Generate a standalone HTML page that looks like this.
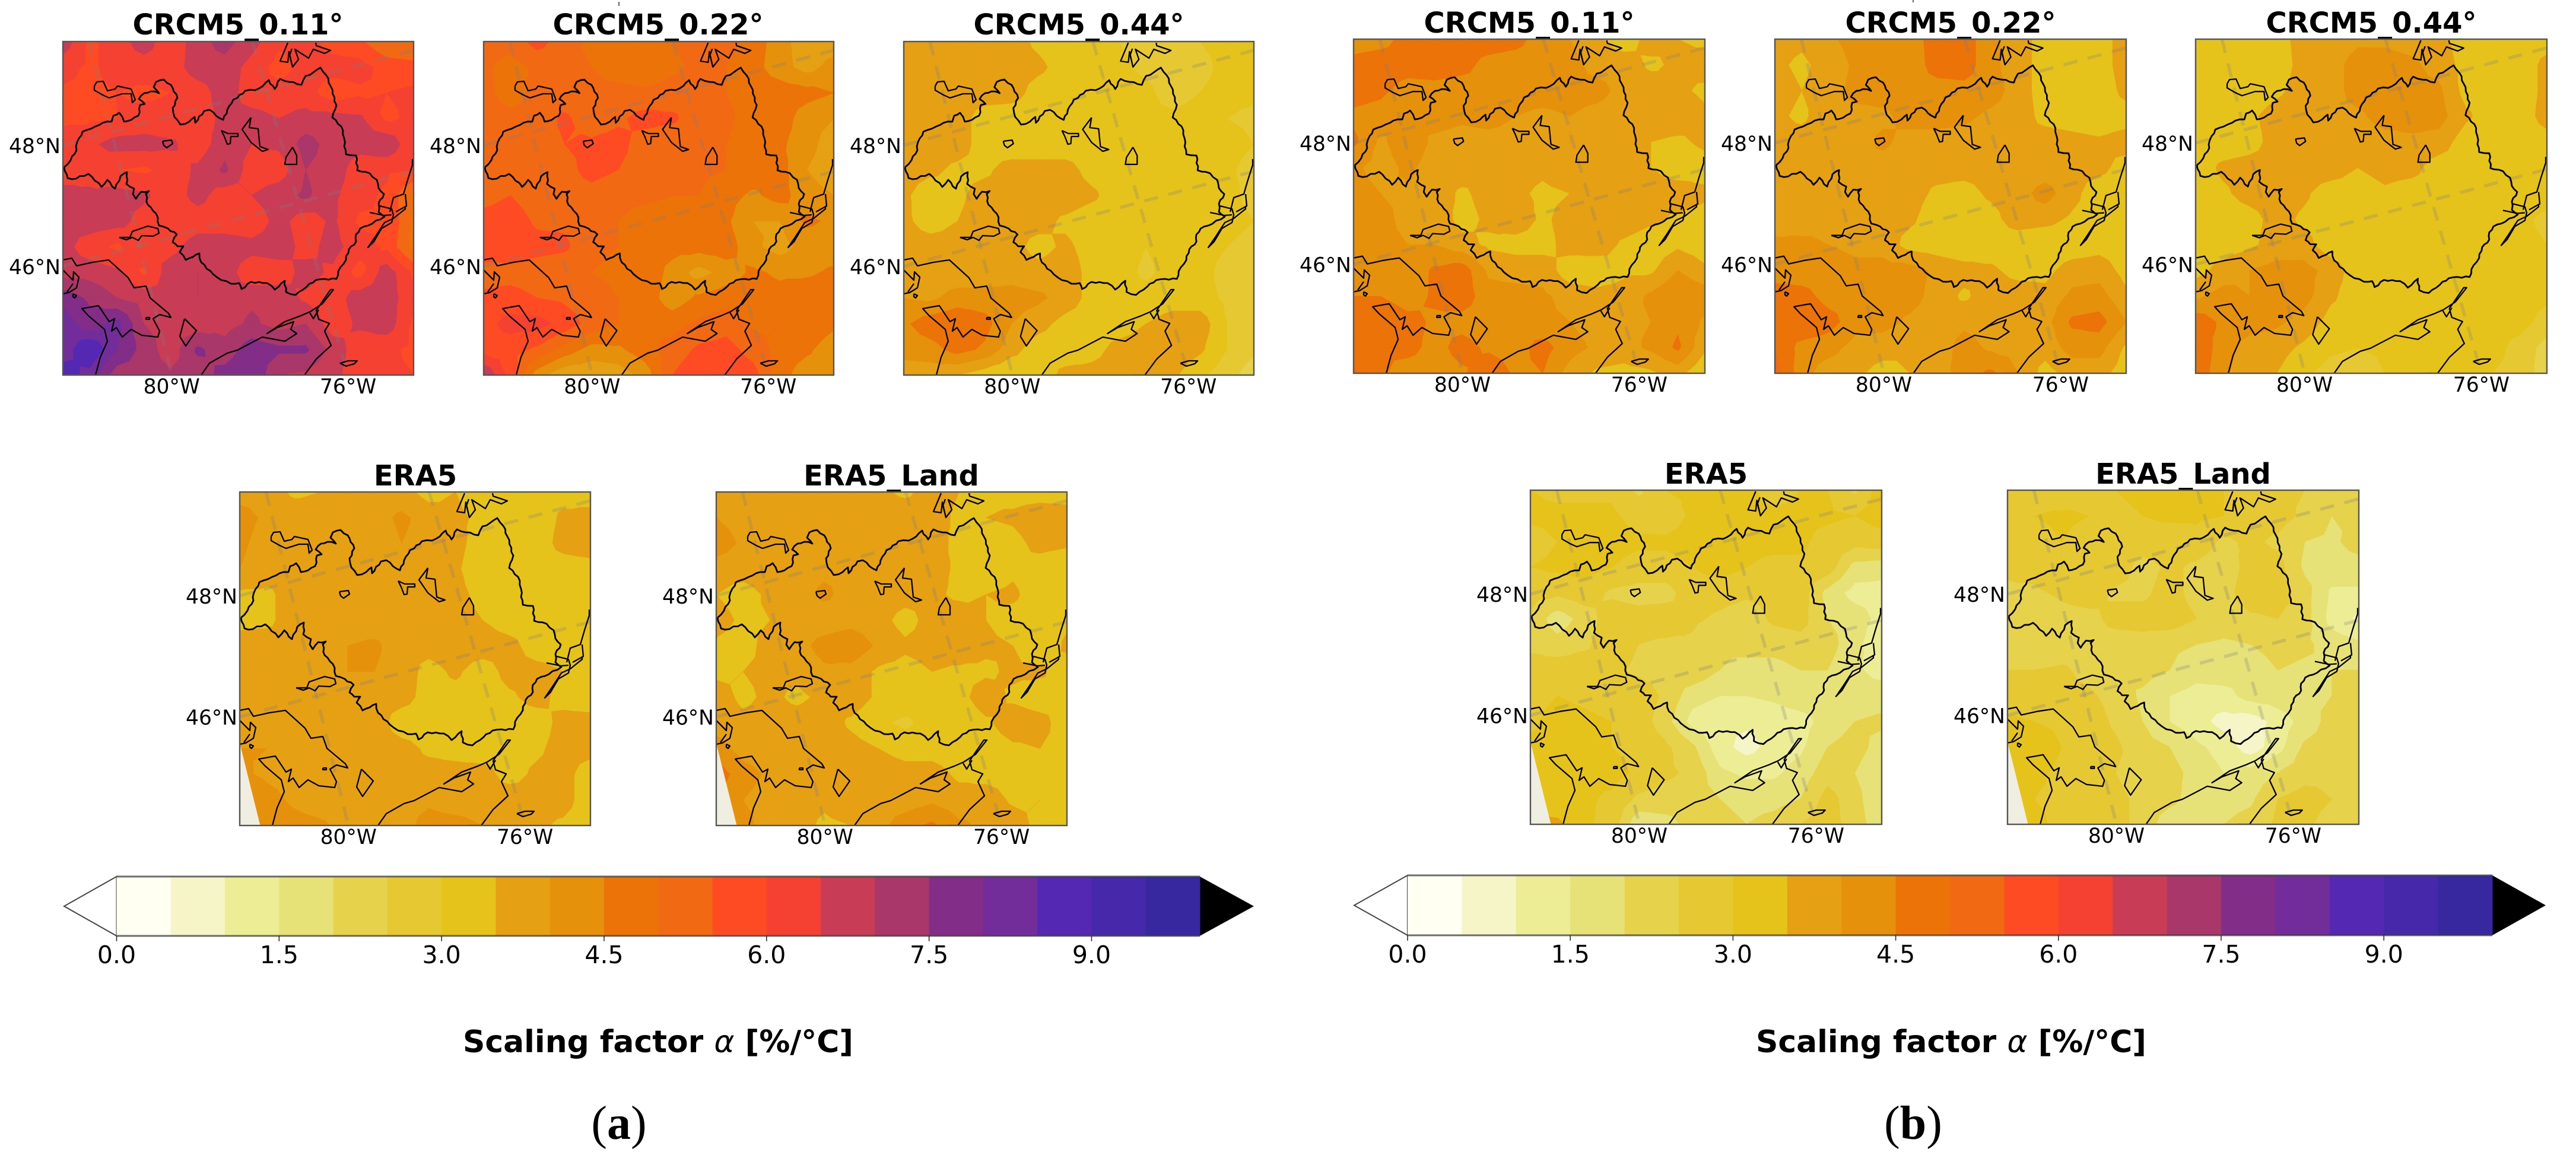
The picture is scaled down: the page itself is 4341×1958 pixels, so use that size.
<!DOCTYPE html>
<html lang="en">
<head>
<meta charset="utf-8">
<title>Scaling factor maps</title>
<style>
html,body{margin:0;padding:0;background:#fff;width:4341px;height:1958px;overflow:hidden}
svg{display:block}
text{font-family:"DejaVu Sans","Liberation Sans",sans-serif;fill:#000}
.title{font-size:48px;font-weight:bold;text-anchor:middle}
.cblabel{font-size:51.9px;font-weight:bold;text-anchor:middle}
.sub{font-family:"Liberation Serif",serif;font-size:80px;text-anchor:middle}
</style>
</head>
<body>
<svg id="figure" xmlns="http://www.w3.org/2000/svg" width="4341" height="1958" viewBox="0 0 4341 1958">
<rect width="4341" height="1958" fill="#fff"/>
<g id="titles">
<text class="title" x="401" y="58">CRCM5_0.11°</text>
<text class="title" x="1109" y="58">CRCM5_0.22°</text>
<text class="title" x="1818" y="58">CRCM5_0.44°</text>
<text class="title" x="2577" y="55">CRCM5_0.11°</text>
<text class="title" x="3287" y="55">CRCM5_0.22°</text>
<text class="title" x="3996" y="55">CRCM5_0.44°</text>
<text class="title" x="700" y="818">ERA5</text>
<text class="title" x="1502" y="818">ERA5_Land</text>
<text class="title" x="2875" y="815">ERA5</text>
<text class="title" x="3679" y="815">ERA5_Land</text>
</g>
<line x1="1043" y1="3" x2="1043" y2="10" stroke="#333" stroke-width="1.5"/>
<line x1="3224" y1="0" x2="3224" y2="4" stroke="#333" stroke-width="1.5"/>
<g id="panels"></g>
<g id="colorbars"></g>
<text class="cblabel" x="1109" y="1773">Scaling factor <tspan font-style="italic" font-weight="normal">α</tspan> [%/°C]</text>
<text class="cblabel" x="3288" y="1773">Scaling factor <tspan font-style="italic" font-weight="normal">α</tspan> [%/°C]</text>
<text class="sub" x="1043" y="1919">(<tspan font-weight="bold">a</tspan>)</text>
<text class="sub" x="3224" y="1919">(<tspan font-weight="bold">b</tspan>)</text>
</svg>
<script>
// ---- Colour levels and tick labels ----
const levelBounds = [0,0.5,1,1.5,2,2.5,3,3.5,4,4.5,5,5.5,6,6.5,7,7.5,8,8.5,9,9.5];
const levelColors = ["#fffff2","#f5f5c8","#eded96","#e6e278","#e6d24b","#e6c832","#e6c31a","#e6a013","#e6910b","#ec7308","#f26914","#ff4b23","#f54132","#c83c55","#aa3769","#822d87","#732d9b","#5528b4","#4628aa","#3728a0"];
const colorbarTicks = [0,1.5,3,4.5,6,7.5,9];
const colorbarMax = 10;
const lonTicks = [-80,-76];
const latTicks = [48,46];

// ---- Scaling factor fields (rows north to south) ----
const crcm011A = [
[6.8,5.9,6.2,6.8,6.1,6.8,7.2,6.7,6.1,6.2,5.8,5.6,5.0,4.9],
[6.2,5.9,6.2,6.2,6.2,6.8,6.8,6.3,5.8,6.2,6.2,6.2,5.8,5.7],
[5.9,5.9,6.0,5.9,6.0,6.2,6.8,6.2,6.2,6.2,5.7,5.9,6.0,6.1],
[5.9,5.9,6.0,6.2,6.1,6.3,6.6,6.7,6.5,6.7,6.7,6.6,5.9,6.1],
[6.2,6.4,6.7,6.7,6.6,6.2,6.8,6.5,6.6,7.2,6.8,6.7,6.9,6.1],
[6.2,6.3,6.0,5.9,6.2,6.6,7.1,6.2,6.2,7.0,6.8,6.2,6.1,6.0],
[6.7,6.6,6.7,6.6,6.2,6.7,6.2,6.5,6.8,7.1,6.6,6.2,5.9,4.9],
[6.7,6.8,6.7,6.3,6.0,6.2,6.2,6.1,6.7,6.2,6.6,5.9,6.0,4.9],
[6.7,6.2,5.9,6.4,6.3,6.8,6.8,6.7,6.8,6.3,6.7,6.2,5.9,4.8],
[6.8,6.8,6.6,5.9,6.8,7.0,6.8,6.1,6.2,6.7,6.4,5.8,6.8,5.9],
[7.8,7.4,7.0,6.8,6.5,7.0,6.7,6.9,6.8,6.4,6.2,6.8,6.8,6.1],
[8.3,7.7,8.2,7.0,6.8,6.7,6.8,7.1,6.8,7.0,6.2,6.6,6.8,5.9],
[8.2,9.0,8.0,7.3,6.7,7.6,7.2,7.8,7.6,7.6,6.8,6.2,6.1,5.9],
[8.8,8.3,7.2,7.3,7.1,7.2,7.7,8.0,7.0,6.9,6.6,6.3,6.1,6.0]];
const crcm022A = [
[5.2,5.2,5.7,5.2,4.9,4.7,4.7,5.0,5.2,5.2,4.8,4.2,3.7,3.7],
[5.1,4.8,5.1,5.1,5.0,4.7,4.6,4.9,5.1,5.0,4.7,4.2,3.8,4.2],
[5.2,4.7,5.2,5.2,5.1,5.2,5.1,5.2,5.3,5.0,4.8,4.8,4.7,4.5],
[5.3,5.2,5.2,5.6,5.2,5.4,5.7,5.6,5.2,5.1,4.8,4.8,4.2,4.0],
[5.2,5.1,5.3,5.5,5.6,5.7,5.2,5.1,5.1,5.0,4.8,4.6,4.2,3.7],
[5.1,5.2,5.2,5.3,5.7,5.5,5.2,5.1,5.1,5.0,4.8,4.7,4.0,3.7],
[5.3,5.5,5.2,5.2,5.3,5.1,5.1,5.0,5.0,4.7,4.4,4.7,4.2,4.0],
[5.7,5.8,5.4,5.4,5.2,5.0,4.8,4.8,4.9,4.6,4.0,4.0,4.6,4.4],
[5.8,5.8,5.7,5.6,5.1,5.0,4.8,4.7,4.7,4.8,4.1,3.8,4.2,4.2],
[5.3,5.3,5.2,5.1,5.0,4.9,4.9,4.3,3.8,4.2,4.6,4.4,4.4,4.6],
[5.6,5.7,5.5,5.4,5.2,5.0,4.8,4.2,4.6,4.8,4.8,4.7,4.9,4.9],
[5.8,6.2,6.2,5.8,5.3,5.0,5.0,4.8,5.1,5.3,4.9,5.0,4.9,4.6],
[5.8,5.7,5.4,4.8,4.3,4.4,4.8,5.2,5.6,5.7,5.3,4.8,4.6,4.2],
[7.0,5.8,4.2,3.6,3.6,3.7,4.2,5.5,5.9,5.9,5.7,4.7,4.2,4.2]];
const crcm044A = [
[3.7,3.7,3.7,3.7,3.7,3.4,3.2,3.2,3.0,2.8,2.8,3.0,3.1,3.1],
[3.7,3.7,3.7,3.7,3.7,3.6,3.3,3.2,3.1,2.9,2.8,2.9,3.1,3.1],
[3.7,3.7,3.7,3.7,3.7,3.3,3.2,3.2,3.2,3.1,2.8,3.0,3.1,3.1],
[3.7,3.7,3.7,3.3,3.2,3.2,3.2,3.2,3.2,3.1,3.1,3.2,3.0,2.9],
[3.7,3.7,3.7,3.3,3.2,3.2,3.2,3.2,3.2,3.2,3.2,3.2,3.2,3.0],
[3.7,3.6,3.4,3.4,3.7,3.7,3.7,3.3,3.2,3.2,3.2,3.2,3.1,2.8],
[3.6,3.2,3.4,3.7,3.7,3.7,3.8,3.6,3.2,3.0,3.2,3.2,3.2,2.8],
[3.6,3.3,3.5,3.7,3.7,3.7,3.4,3.2,3.2,3.0,3.2,3.2,3.2,3.0],
[3.7,3.7,3.7,3.7,3.7,3.3,3.6,3.3,3.2,3.0,3.2,3.2,3.0,2.8],
[3.8,3.7,3.7,3.7,3.8,3.7,3.8,3.3,3.2,2.9,3.2,3.2,2.8,2.7],
[4.0,3.9,4.2,4.2,4.2,4.1,3.8,3.3,3.2,3.2,3.3,3.2,2.9,2.9],
[4.4,4.8,5.0,4.7,4.0,3.7,3.3,3.2,3.2,3.5,3.7,3.8,3.0,2.9],
[4.2,4.3,4.7,4.4,3.7,3.2,3.1,3.3,3.7,3.8,3.8,3.6,3.0,2.6],
[3.7,3.7,3.5,3.2,3.0,3.1,3.7,3.7,3.8,3.7,3.6,3.1,2.7,2.2]];
const crcm011B = [
[4.2,4.3,4.7,4.7,4.8,4.8,4.7,4.2,4.0,3.6,3.2,3.7,3.5,3.4],
[4.7,4.8,4.7,4.8,4.7,4.3,4.2,4.2,4.2,3.8,3.8,3.4,3.6,3.7],
[4.7,4.6,4.3,4.3,4.2,4.3,4.2,4.2,4.2,4.2,3.8,3.8,3.6,3.4],
[4.4,4.3,4.0,4.2,4.1,4.2,4.0,3.9,4.0,3.8,3.7,3.8,3.8,3.6],
[4.6,3.9,4.3,3.9,3.8,3.8,3.8,3.7,4.0,3.8,3.8,3.5,3.4,3.6],
[4.1,3.8,4.1,3.8,3.8,3.6,3.7,3.6,3.8,3.7,3.8,3.5,3.2,3.3],
[4.2,4.0,3.9,3.8,3.4,3.7,3.6,3.4,3.5,3.8,4.0,3.7,3.8,3.6],
[4.1,4.2,3.8,3.9,3.3,3.6,3.8,3.4,3.7,3.8,3.8,3.6,3.4,3.3],
[4.0,4.2,4.0,4.0,3.7,3.4,3.3,3.3,3.7,3.8,3.4,3.2,3.4,3.2],
[4.4,4.1,4.1,4.6,4.8,3.9,3.8,3.8,3.2,3.1,3.4,3.4,4.0,3.6],
[4.5,4.5,4.2,4.6,4.8,4.2,4.2,4.1,3.8,3.7,3.7,4.1,4.5,4.3],
[4.8,5.0,4.7,4.4,4.3,4.2,4.3,4.1,4.0,3.8,3.9,4.0,4.4,3.9],
[4.7,4.5,4.7,4.3,4.7,4.4,4.3,4.7,4.2,3.9,3.8,4.1,4.6,3.6],
[5.1,4.6,4.2,4.2,4.4,4.9,4.4,4.5,3.8,3.4,3.3,3.4,3.7,3.0]];
const crcm022B = [
[3.7,3.6,3.9,4.2,4.2,4.2,4.8,4.8,4.1,3.8,3.2,3.2,3.2,3.8],
[3.6,3.4,3.7,4.1,4.2,4.1,4.8,4.8,4.1,3.8,3.2,3.0,3.2,3.8],
[3.7,3.5,3.7,4.2,4.2,4.2,4.2,4.3,4.2,3.8,3.2,3.1,3.1,3.7],
[3.6,3.4,3.8,3.8,3.9,4.2,4.2,4.1,3.9,3.8,3.3,3.2,3.1,3.2],
[3.7,3.7,3.8,3.8,4.1,3.8,3.8,3.8,3.7,3.7,3.8,3.7,3.6,3.8],
[3.7,3.8,3.8,3.9,3.8,3.7,3.7,3.7,3.7,3.7,3.7,3.7,3.7,3.2],
[3.8,3.7,3.7,3.7,3.7,3.7,3.4,3.3,3.6,3.8,4.2,3.7,3.1,3.1],
[3.8,3.6,3.8,3.8,3.7,3.6,3.2,3.2,3.3,3.8,3.7,3.4,3.2,3.2],
[4.1,4.2,4.0,3.9,3.8,3.3,3.2,3.1,3.2,3.1,3.0,3.1,3.3,3.2],
[4.3,4.2,4.2,4.1,4.2,4.2,3.9,3.7,3.6,3.3,3.3,3.8,3.8,3.3],
[4.7,4.7,4.3,4.3,4.2,4.2,3.8,3.4,3.8,3.8,3.7,4.1,4.2,3.6],
[4.8,5.0,4.7,4.2,4.2,3.9,3.7,3.9,3.8,3.7,3.8,4.6,4.7,4.0],
[5.0,4.3,4.2,3.8,3.7,3.5,3.7,4.2,3.9,3.8,3.7,4.2,4.2,3.4],
[5.2,4.2,3.7,3.6,3.3,3.5,3.7,4.3,4.6,4.0,3.3,3.7,3.7,3.2]];
const crcm044B = [
[3.2,3.2,3.2,3.3,3.7,3.7,3.9,3.9,3.8,3.7,3.2,3.1,3.1,3.2],
[3.2,3.2,3.2,3.2,3.7,3.8,4.2,4.2,4.1,3.8,3.3,3.1,3.1,3.7],
[3.0,3.2,3.2,3.4,3.7,3.8,4.2,4.2,4.2,4.1,3.3,3.2,3.1,3.7],
[3.2,3.2,3.4,3.7,3.8,3.9,3.9,4.2,4.2,4.2,3.6,3.2,3.1,3.8],
[3.2,3.2,3.3,3.7,3.8,3.8,3.7,3.8,3.9,3.8,3.2,3.0,3.0,3.2],
[3.2,3.6,3.7,3.7,3.8,3.8,3.5,3.7,3.7,3.2,3.2,3.2,3.0,3.1],
[3.2,3.4,3.7,3.8,3.6,3.2,3.2,3.4,3.2,3.2,3.2,3.2,3.2,3.2],
[3.2,3.2,3.3,3.7,3.4,3.2,3.2,3.2,3.2,3.2,3.2,3.2,3.1,2.9],
[3.2,3.2,3.4,3.7,3.7,3.2,3.1,3.0,3.0,3.1,3.2,3.2,3.1,3.0],
[3.3,3.7,4.0,4.2,4.2,3.8,3.2,3.1,3.1,3.2,3.2,3.3,3.2,3.0],
[3.9,4.2,4.0,4.2,4.2,3.6,3.2,3.2,3.2,3.2,3.2,3.2,3.2,3.1],
[4.8,4.4,4.2,4.1,3.8,3.3,3.2,3.2,3.2,3.2,3.2,3.2,3.2,2.8],
[5.0,4.2,3.8,3.7,3.4,3.1,3.0,3.1,3.2,3.4,3.2,3.2,2.8,2.3],
[4.9,4.1,3.7,3.5,3.1,2.8,2.7,3.0,3.1,3.3,3.2,3.0,2.8,2.2]];
const era5A = [
[3.8,3.8,3.4,3.5,3.6,3.7,3.7,3.3,3.5,3.2,3.2,3.3,3.3,3.2],
[4.2,3.9,3.8,3.7,3.9,3.8,4.1,3.8,3.6,3.4,3.3,3.2,3.6,3.7],
[4.1,3.8,3.7,3.7,3.8,3.7,4.0,3.8,3.7,3.2,3.1,3.2,3.7,3.9],
[4.0,3.7,3.7,3.7,3.7,3.8,3.8,3.8,3.6,3.1,3.0,3.2,3.2,3.2],
[3.4,3.4,3.7,3.7,3.8,3.8,3.8,3.7,3.7,3.3,3.0,3.2,3.1,3.2],
[3.3,3.4,3.7,3.8,3.8,3.7,3.8,3.7,3.7,3.5,3.2,3.2,3.2,3.2],
[3.8,3.7,3.7,3.8,4.0,4.1,3.7,3.7,3.8,3.8,3.7,3.2,3.2,3.4],
[3.9,3.6,3.5,3.7,4.0,4.0,3.8,3.3,3.6,3.2,3.7,3.7,3.5,3.3],
[4.0,3.8,3.8,3.8,3.7,3.7,3.7,3.3,3.3,3.2,3.4,3.7,3.3,3.2],
[3.9,3.8,3.7,3.7,3.8,3.8,3.2,3.2,3.1,3.2,3.2,3.2,3.7,3.7],
[4.0,4.0,3.8,3.8,3.7,3.8,3.7,3.4,3.3,3.2,3.3,3.4,3.7,3.7],
[4.1,3.9,3.8,3.8,3.7,3.6,3.7,3.7,3.7,3.7,3.3,3.6,3.7,3.2],
[4.6,4.2,3.9,3.7,3.7,3.7,3.8,3.9,3.7,3.7,3.8,3.7,3.7,3.2],
[4.0,4.4,4.2,4.1,3.8,3.7,3.8,4.2,4.2,4.0,3.7,3.6,3.4,3.2]];
const era5LandA = [
[3.8,3.7,3.5,3.8,3.7,3.6,3.6,3.4,3.7,3.5,3.4,3.3,3.2,3.2],
[4.0,3.8,3.9,3.7,3.9,3.7,3.8,3.8,3.7,3.4,3.5,3.6,3.9,3.8],
[4.3,3.9,3.7,3.9,3.8,3.8,3.7,3.5,3.8,3.3,3.2,3.3,3.7,3.6],
[3.7,3.7,3.8,3.8,3.9,3.9,3.7,3.6,3.7,3.4,3.2,3.4,3.2,3.0],
[3.5,3.3,3.6,3.8,4.1,3.8,3.8,3.7,3.6,3.4,3.5,3.6,3.2,3.2],
[3.7,3.4,3.5,3.7,3.7,3.8,3.7,3.3,3.7,3.8,3.5,3.3,3.2,3.4],
[3.4,3.3,3.7,3.8,4.2,4.4,3.9,3.6,3.7,3.8,3.6,3.5,3.1,3.6],
[3.4,3.5,3.6,3.6,3.9,3.8,3.4,3.3,3.5,3.4,3.4,3.6,3.6,3.2],
[3.7,3.4,3.6,3.4,3.6,3.8,3.4,3.3,3.2,3.3,3.8,3.4,3.2,3.4],
[3.8,3.6,3.7,3.7,3.8,3.4,3.1,2.9,3.2,3.1,3.4,3.8,3.7,3.2],
[4.2,3.8,3.7,3.6,3.8,3.7,3.5,3.3,3.3,3.2,3.2,3.4,3.5,3.3],
[4.8,4.2,3.9,3.7,3.8,3.7,3.8,3.7,3.7,3.4,3.3,3.3,3.4,3.2],
[4.5,4.0,3.8,3.7,3.6,3.8,3.7,3.7,3.9,3.7,3.8,3.4,3.5,3.3],
[3.8,4.2,3.7,3.7,3.4,3.5,3.8,4.3,4.6,4.1,3.9,3.8,3.3,3.2]];
const era5B = [
[3.0,2.9,2.8,2.9,2.4,3.0,3.1,3.2,3.1,2.8,3.0,3.0,2.4,3.3],
[3.1,3.1,3.2,3.1,2.8,2.7,3.1,3.2,3.2,3.1,3.1,3.1,3.0,3.2],
[2.8,3.0,3.2,3.2,3.1,3.1,3.2,3.2,3.2,3.2,3.1,2.8,2.7,2.8],
[3.0,3.1,3.2,3.0,2.8,2.8,3.0,3.2,3.0,2.8,2.9,2.8,1.8,1.7],
[2.7,2.6,2.8,2.4,2.3,2.3,2.8,2.7,2.6,2.6,2.8,1.8,1.3,1.3],
[2.4,1.7,2.2,2.8,2.7,2.8,2.6,2.4,2.2,2.6,2.7,2.0,1.8,1.3],
[2.4,2.2,2.4,2.8,2.5,2.4,2.4,2.0,2.1,2.2,2.3,2.2,1.7,1.0],
[2.7,2.8,2.8,2.6,2.4,2.3,2.4,2.0,1.9,1.8,2.0,2.0,1.6,1.3],
[2.8,3.0,2.9,2.8,2.8,2.4,1.7,1.5,1.5,1.6,1.8,1.8,1.7,1.8],
[2.9,3.2,3.1,3.0,2.8,2.2,1.3,1.1,1.1,1.2,1.3,1.7,2.0,2.1],
[3.1,3.2,3.2,3.0,2.9,2.6,2.1,1.2,0.8,1.2,1.4,2.0,2.2,1.8],
[3.4,3.2,3.1,3.2,2.9,2.6,2.4,1.6,1.4,1.4,1.7,2.3,2.0,1.6],
[3.3,3.2,3.1,2.9,2.4,2.3,2.2,2.0,1.8,1.8,2.0,2.7,2.2,1.5],
[3.6,3.6,3.1,2.8,1.6,1.8,2.2,2.2,2.0,2.2,2.5,2.7,2.3,1.6]];
const era5LandB = [
[2.7,2.8,2.6,2.9,3.0,3.2,3.3,3.2,3.0,2.8,2.6,2.5,2.1,2.1],
[2.9,3.0,3.1,3.0,2.8,3.0,3.1,3.1,3.0,2.7,2.7,2.4,2.0,2.0],
[2.8,2.8,3.0,2.8,2.8,2.8,2.7,2.8,2.4,2.6,2.4,2.0,1.9,2.2],
[2.6,2.7,3.0,2.9,2.8,2.3,2.6,2.4,2.2,2.7,2.7,1.9,1.8,1.8],
[2.4,2.4,2.6,2.8,2.4,2.4,2.7,2.3,2.3,2.8,2.8,2.2,1.4,1.4],
[2.3,2.0,2.3,2.3,2.7,2.7,2.8,2.5,2.3,2.4,2.5,2.2,1.3,0.9],
[2.3,2.0,2.1,2.3,2.2,2.3,2.1,2.0,1.9,2.0,2.2,2.1,1.8,1.6],
[2.5,2.5,2.6,2.3,2.0,2.2,2.0,1.7,1.8,1.7,2.0,1.9,2.0,2.0],
[2.8,2.6,2.7,2.6,2.3,1.9,1.5,1.3,1.3,1.7,1.8,1.9,2.0,2.2],
[3.1,3.0,2.9,2.8,2.4,2.0,1.5,1.2,0.8,0.7,1.2,1.7,2.2,2.3],
[3.3,3.3,3.0,2.8,2.6,2.2,2.0,1.6,1.3,0.7,1.3,2.1,2.2,2.4],
[3.0,3.1,2.9,2.7,2.5,2.3,2.2,1.8,1.5,1.7,2.0,2.3,2.4,2.4],
[3.2,3.0,2.9,2.7,2.6,2.4,2.2,1.7,1.8,1.9,2.5,2.7,2.5,2.2],
[3.4,3.1,2.9,2.8,2.6,2.4,1.6,1.5,2.0,2.2,2.6,2.6,2.3,2.2]];

// ---- Map outlines (traced, in a 591 x 562 map frame) ----
const basinOutline = [[2,212],[13,200],[23,183],[22,177],[27,163],[33,152],[47,147],[55,143],[67,137],[82,135],[85,125],[95,120],[103,135],[115,132],[127,125],[130,107],[138,105],[128,97],[137,87],[148,84],[162,87],[153,77],[157,68],[170,64],[182,73],[193,95],[185,112],[188,127],[198,140],[213,135],[222,127],[223,137],[238,117],[247,115],[258,125],[270,132],[277,115],[287,98],[294,95],[307,83],[324,82],[337,75],[347,65],[357,80],[366,63],[381,68],[402,73],[409,58],[422,52],[434,44],[444,57],[451,75],[461,107],[454,128],[469,143],[474,163],[477,190],[494,192],[496,217],[517,222],[529,233],[532,247],[541,257],[532,273],[532,287],[542,295],[521,307],[501,315],[494,325],[494,337],[482,350],[477,368],[464,387],[461,400],[441,400],[426,402],[411,413],[392,427],[376,422],[374,403],[357,418],[344,407],[317,405],[301,417],[297,407],[283,408],[267,402],[253,392],[233,372],[230,357],[213,365],[207,368],[197,355],[203,345],[193,345],[185,338],[192,325],[177,315],[162,310],[157,290],[143,275],[140,257],[145,252],[132,253],[123,265],[118,257],[120,248],[107,240],[108,220],[97,227],[88,248],[75,233],[65,245],[43,223],[15,232],[8,230],[2,212]];
const coastLines = [
[[379,2],[366,33],[379,35],[381,17],[387,43],[397,30],[391,13],[414,28],[422,13],[441,20],[451,15],[427,7],[426,2]],
[[386,12],[382,23],[387,43]],
[[53,75],[57,68],[68,67],[75,83],[88,80],[92,75],[115,80],[122,98],[117,103],[115,88],[100,88],[78,95],[67,90],[53,82],[53,75]],
[[168,168],[183,166],[185,172],[175,179],[170,175],[168,168]],
[[267,150],[278,155],[295,155],[295,160],[283,160],[282,172],[277,173],[272,160],[267,150]],
[[317,128],[302,148],[317,170],[336,185],[346,182],[332,177],[329,147],[314,145],[317,128]],
[[387,178],[394,192],[394,207],[374,207],[376,195],[387,178]],
[[95,330],[113,330],[117,320],[143,311],[160,315],[162,323],[152,328],[133,327],[127,335],[117,330],[107,334],[95,330]],
[[0,368],[15,365],[23,378],[50,372],[77,368],[110,398],[120,415],[140,412],[147,432],[178,458],[182,465],[163,460],[152,467],[163,488],[160,498],[133,495],[115,485],[100,498],[90,482],[82,488],[87,467],[78,472],[60,445],[32,450],[43,462],[70,485],[75,505],[63,532],[55,562]],
[[0,385],[17,402],[18,388],[27,397],[23,415],[10,423],[0,425]],
[[7,422],[17,408]],
[[17,425],[23,428],[20,432],[17,430],[17,425]],
[[205,467],[225,487],[207,513],[197,497],[205,467]],
[[140,465],[146,465],[146,468],[140,468],[140,465]],
[[233,562],[247,542],[277,525],[294,520],[336,498],[374,505],[394,492],[384,485],[389,472],[361,482],[344,492],[374,472],[401,462],[417,455],[437,442],[456,418],[451,418],[427,453],[431,468],[449,475],[441,488],[452,512],[427,535],[407,562],[387,562]],
[[416,457],[422,467],[431,452]],
[[467,542],[481,538],[496,538],[491,543],[477,547],[467,542]],
[[589,198],[589,208],[581,233],[574,257],[557,263],[551,287]],
[[577,257],[579,277],[561,287]],
[[577,277],[577,282],[557,298],[542,305],[527,328],[514,347],[524,337],[537,315],[554,305],[557,292],[554,282],[534,277]],
[[517,288],[541,293],[554,292]]];
const noDataWedge = [[0,0.753],[0.0585,1],[0,1]];

// ---- Axis functions ----
function lonToU(lon){ return 0.31 + (lon + 80) * 0.1258; }
function latToV(lat){ return 0.311 + (48 - lat) * 0.1815; }
function colorbarScale(v, x0, x1){ return x0 + (v / colorbarMax) * (x1 - x0); }
function lonLabel(lon){ return Math.abs(lon) + '°W'; }
function latLabel(lat){ return lat + '°N'; }

const SVGNS = 'http://www.w3.org/2000/svg';
function make(tag, attrs, parent){
  const el = document.createElementNS(SVGNS, tag);
  for (const k in attrs) el.setAttribute(k, attrs[k]);
  if (parent) parent.appendChild(el);
  return el;
}
function r1(n){ return Math.round(n * 10) / 10; }

// Region of a triangle where the field is at or above a threshold
function clipTriangle(tri, level){
  const out = [];
  for (let i = 0; i < 3; i++){
    const a = tri[i], b = tri[(i + 1) % 3];
    const ina = a[2] >= level, inb = b[2] >= level;
    if (ina) out.push(a);
    if (ina !== inb){
      const t = (level - a[2]) / (b[2] - a[2]);
      out.push([a[0] + t * (b[0] - a[0]), a[1] + t * (b[1] - a[1]), level]);
    }
  }
  return out;
}
function contourPath(grid, level, sx, sy){
  const rows = grid.length, cols = grid[0].length;
  let d = '';
  for (let i = 0; i < rows - 1; i++){
    for (let j = 0; j < cols - 1; j++){
      const a = [sx(j), sy(i), grid[i][j]];
      const b = [sx(j + 1), sy(i), grid[i][j + 1]];
      const c = [sx(j + 1), sy(i + 1), grid[i + 1][j + 1]];
      const e = [sx(j), sy(i + 1), grid[i + 1][j]];
      const m = [(a[0] + b[0]) / 2, (a[1] + e[1]) / 2, (a[2] + b[2] + c[2] + e[2]) / 4];
      const tris = [[a, b, m], [b, c, m], [c, e, m], [e, a, m]];
      for (const t of tris){
        const poly = clipTriangle(t, level);
        if (poly.length < 3) continue;
        d += 'M' + poly.map(p => r1(p[0]) + ' ' + r1(p[1])).join('L') + 'Z';
      }
    }
  }
  return d;
}
// Small zigzag gives the basin boundary its rough river-divide look
const roughness = [0.9, -1.3, 0.5, -0.7, 1.4, -0.4, 0.7, -1.2];
function roughen(points){
  const out = [];
  let n = 0;
  for (let i = 0; i < points.length - 1; i++){
    const a = points[i], b = points[i + 1];
    const len = Math.hypot(b[0] - a[0], b[1] - a[1]);
    const steps = Math.max(1, Math.round(len / 7));
    const nx = -(b[1] - a[1]) / (len || 1), ny = (b[0] - a[0]) / (len || 1);
    for (let s = 0; s < steps; s++){
      const t = s / steps, o = s === 0 ? 0 : roughness[n++ % roughness.length];
      out.push([a[0] + t * (b[0] - a[0]) + nx * o, a[1] + t * (b[1] - a[1]) + ny * o]);
    }
  }
  out.push(points[points.length - 1]);
  return out;
}

function drawPanel(name, grid, x, y, w, h, hasWedge){
  const root = document.getElementById('panels');
  const g = make('g', {}, root);
  
  
  const clipId = 'clip-' + name;
  const cp = make('clipPath', {id: clipId}, g);
  make('rect', {x: x, y: y, width: w, height: h}, cp);
  const body = make('g', {'clip-path': 'url(#' + clipId + ')'}, g);
  const base = make('rect', {x: x, y: y, width: w, height: h, fill: levelColors[0]}, body);
  
  
  const rows = grid.length, cols = grid[0].length;
  const sx = j => x + j / (cols - 1) * w;
  const sy = i => y + i / (rows - 1) * h;
  for (let k = 1; k < levelBounds.length; k++){
    const d = contourPath(grid, levelBounds[k], sx, sy);
    if (!d) continue;
    const band = make('path', {d: d, fill: levelColors[k], stroke: levelColors[k], 'stroke-width': 0.8}, body);
    
    
  }
  if (hasWedge){
    const wedge = make('polygon', {points: noDataWedge.map(p => (x + p[0] * w) + ',' + (y + p[1] * h)).join(' '), fill: '#f0eee0'}, body);
    
    
  }
  // graticule
  const grat = make('g', {fill: 'none', stroke: 'rgba(125,125,130,0.27)', 'stroke-width': 5.5, 'stroke-dasharray': '24 18'}, body);
  
  
  latTicks.forEach(function(lat){
    const v = latToV(lat);
    make('line', {x1: x, y1: y + v * h, x2: x + w, y2: y + (v - 0.285) * h}, grat);
  });
  lonTicks.forEach(function(lon){
    const u = lonToU(lon);
    const lean = 0.235 + (u - 0.31) * 0.0755;
    make('line', {x1: x + (u - lean) * w, y1: y, x2: x + u * w, y2: y + h}, grat);
  });
  // outlines
  const fx = p => r1(x + p[0] / 591 * w) + ' ' + r1(y + p[1] / 562 * h);
  const coast = make('path', {d: coastLines.map(l => 'M' + l.map(fx).join('L')).join(''), fill: 'none', stroke: '#000', 'stroke-width': 2.3, 'stroke-linejoin': 'round'}, body);
  
  
  const scaled = basinOutline.map(p => [x + p[0] / 591 * w, y + p[1] / 562 * h]);
  const basin = make('path', {d: 'M' + roughen(scaled).map(p => r1(p[0]) + ' ' + r1(p[1])).join('L'), fill: 'none', stroke: '#000', 'stroke-width': 2.8, 'stroke-linejoin': 'round'}, body);
  
  
  const frame = make('rect', {x: x, y: y, width: w, height: h, fill: 'none', stroke: '#555', 'stroke-width': 2.4}, g);
  
  
  // tick labels
  lonTicks.forEach(function(lon){
    const t = make('text', {x: x + lonToU(lon) * w, y: y + h + 31, 'font-size': 34.5, 'text-anchor': 'middle'}, g);
    t.textContent = lonLabel(lon);
    
    
  });
  latTicks.forEach(function(lat){
    const t = make('text', {x: x - 4, y: y + latToV(lat) * h + 13, 'font-size': 34.5, 'text-anchor': 'end'}, g);
    t.textContent = latLabel(lat);
    
    
  });
}

function drawColorbar(name, tipL, x0, x1, tipR, top, bottom){
  const root = document.getElementById('colorbars');
  const g = make('g', {}, root);
  
  
  const mid = (top + bottom) / 2;
  const under = make('polygon', {points: x0 + ',' + top + ' ' + tipL + ',' + mid + ' ' + x0 + ',' + bottom, fill: '#fff', stroke: '#444', 'stroke-width': 2}, g);
  
  
  const over = make('polygon', {points: x1 + ',' + top + ' ' + tipR + ',' + mid + ' ' + x1 + ',' + bottom, fill: '#000'}, g);
  
  
  levelBounds.forEach(function(lo, k){
    const hi = k + 1 < levelBounds.length ? levelBounds[k + 1] : colorbarMax;
    const a = colorbarScale(lo, x0, x1), b = colorbarScale(hi, x0, x1);
    const seg = make('rect', {x: a, y: top, width: b - a + 0.5, height: bottom - top, fill: levelColors[k]}, g);
    
    
  });
  const edges = make('path', {d: 'M' + x0 + ' ' + top + 'H' + x1 + 'M' + x0 + ' ' + bottom + 'H' + x1, fill: 'none', stroke: 'rgba(60,60,60,0.75)', 'stroke-width': 3}, g);
  
  
  colorbarTicks.forEach(function(v){
    const tx = colorbarScale(v, x0, x1);
    const tick = make('line', {x1: tx, y1: bottom, x2: tx, y2: bottom + 9, stroke: '#222', 'stroke-width': 1.5}, g);
    
    
    const t = make('text', {x: tx, y: bottom + 46, 'font-size': 41, 'text-anchor': 'middle'}, g);
    t.textContent = v.toFixed(1);
    
    
  });
}

drawPanel('a-crcm5-011', crcm011A, 106, 70, 591, 562, false);
drawPanel('a-crcm5-022', crcm022A, 815, 70, 590, 562, false);
drawPanel('a-crcm5-044', crcm044A, 1523, 70, 590, 562, false);
drawPanel('b-crcm5-011', crcm011B, 2281, 66, 592, 563, false);
drawPanel('b-crcm5-022', crcm022B, 2991, 66, 592, 563, false);
drawPanel('b-crcm5-044', crcm044B, 3700, 66, 592, 563, false);
drawPanel('a-era5', era5A, 404, 829, 591, 562, true);
drawPanel('a-era5-land', era5LandA, 1207, 829, 591, 562, true);
drawPanel('b-era5', era5B, 2579, 826, 592, 563, true);
drawPanel('b-era5-land', era5LandB, 3383, 826, 592, 563, true);
drawColorbar('a', 108, 196.5, 2022, 2113, 1477, 1577);
drawColorbar('b', 2282, 2372, 4200, 4290, 1475, 1576);
</script>
</body>
</html>
